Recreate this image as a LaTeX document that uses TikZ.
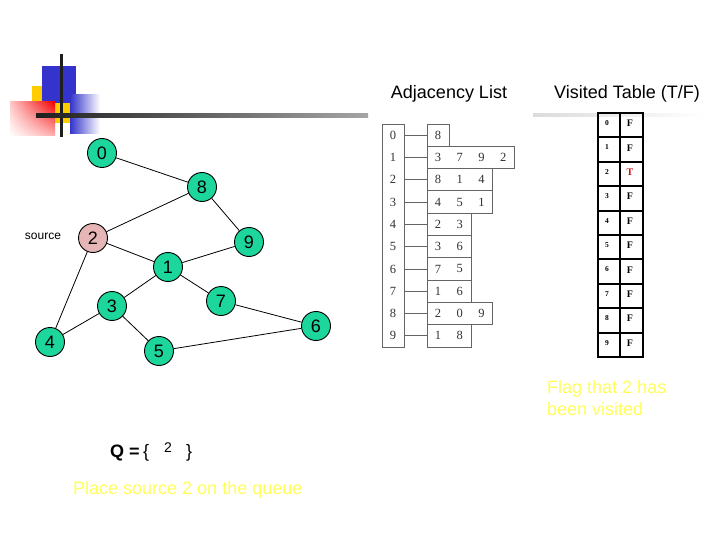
\documentclass[tikz,border=0pt]{standalone}
\usepackage{fontspec}
\usetikzlibrary{shadings}
\setmainfont{Liberation Sans}
\newfontfamily\serifA{Liberation Serif}
\definecolor{nodegreen}{RGB}{28,214,156}
\definecolor{nodepink}{RGB}{230,182,182}
\definecolor{logoblue}{RGB}{52,52,204}
\definecolor{logoyellow}{RGB}{255,204,0}
\definecolor{hiyellow}{RGB}{255,255,90}
\definecolor{adjgray}{RGB}{100,100,100}
\definecolor{adjtext}{RGB}{50,50,50}
\definecolor{tred}{RGB}{190,20,30}
\begin{document}
\begin{tikzpicture}[x=1pt,y=-1pt,
  gnode/.style={circle, draw=black, line width=0.9pt, fill=nodegreen, minimum size=29pt, inner sep=0pt, font=\fontsize{18}{18}\selectfont},
  edge/.style={draw=black, line width=0.8pt},
  adjbox/.style={draw=adjgray, line width=0.8pt, inner sep=0pt, minimum height=22.3pt},
  adjtxt/.style={inner sep=0pt, text=adjtext, font=\serifA\fontsize{12.5}{12.5}\selectfont},
  adjlink/.style={draw=adjgray, line width=0.8pt},
  vnum/.style={inner sep=0pt, font=\serifA\bfseries\fontsize{7.5}{7.5}\selectfont},
  vflag/.style={inner sep=0pt, font=\serifA\bfseries\fontsize{10}{10}\selectfont},
  title/.style={inner sep=0pt, anchor=base, font=\fontsize{18}{18}\selectfont},
  note/.style={inner sep=0pt, anchor=base west, text=hiyellow, font=\fontsize{18}{18}\selectfont}]
\useasboundingbox (0,0) rectangle (720,540);
\fill[white] (0,0) rectangle (720,540);

% logo
\fill[logoyellow] (32,86) rectangle (70,123);
\fill[logoblue] (42,66) rectangle (76,103);
\shade[upper right=red!95!black, upper left=red!22, lower right=red!30, lower left=white] (10,102) rectangle (55,136);
\shade[left color=logoblue, right color=white] (70,95) rectangle (100,134);
\fill[black!88] (59.5,54) rectangle (62.5,137);
\shade[left color=black!88, right color=black!35] (36,114) rectangle (368,117.5);
\shade[left color=black!14, right color=white] (533,113.5) rectangle (705,116.5);

% titles
\node[title] (adjtitle) at (449,99) {Adjacency List};
\node[title] (vistitle) at (627,99) {Visited Table (T/F)};

% graph
\node[gnode] (n0) at (102,153) {0};
\node[gnode] (n8) at (202,187) {8};
\node[gnode, fill=nodepink] (n2) at (93,238) {2};
\node[gnode] (n9) at (249,242) {9};
\node[gnode] (n1) at (168,267) {1};
\node[gnode] (n7) at (221,301) {7};
\node[gnode] (n3) at (112,306) {3};
\node[gnode] (n6) at (316,326) {6};
\node[gnode] (n4) at (50,342) {4};
\node[gnode] (n5) at (159,351) {5};
\node[inner sep=0pt, font=\fontsize{12}{12}\selectfont] (src) at (43,236) {source};
\foreach \a/\b in {n0/n8, n8/n2, n8/n9, n2/n1, n2/n4, n9/n1, n1/n3, n1/n7, n3/n4, n3/n5, n7/n6, n5/n6}
  \draw[edge] (\a) -- (\b);

% adjacency list
\node[draw=adjgray, line width=0.8pt, inner sep=0pt, minimum width=22pt, minimum height=223pt] (leftcol) at (393,235.5) {};
\foreach \i/\n in {0/1,1/4,2/3,3/3,4/2,5/2,6/2,7/2,8/3,9/2} {
  \node[adjtxt] (L\i) at (393,{135.15+22.3*\i}) {\i};
  \node[adjbox, anchor=west, minimum width={21.8*\n}] (R\i) at (427,{135.15+22.3*\i}) {};
  \draw[adjlink] (leftcol.east |- L\i) -- (R\i.west);
}
\foreach \i/\j/\v in {0/0/8, 1/0/3,1/1/7,1/2/9,1/3/2, 2/0/8,2/1/1,2/2/4, 3/0/4,3/1/5,3/2/1,
  4/0/2,4/1/3, 5/0/3,5/1/6, 6/0/7,6/1/5, 7/0/1,7/1/6, 8/0/2,8/1/0,8/2/9, 9/0/1,9/1/8}
  \node[adjtxt] (a\i\j) at ({437.9+21.8*\j},{135.15+22.3*\i}) {\v};

% visited table
\draw[line width=2.6pt] (598,113) rectangle (643,357);
\foreach \i in {1,...,9} \draw[line width=2pt] (598,{113+24.4*\i}) -- (643,{113+24.4*\i});
\draw[line width=2pt] (620,113) -- (620,357);
\foreach \i in {0,...,9} {
  \node[vnum] (vn\i) at (607,{123+24.4*\i}) {\i};
  \ifnum\i=2
    \node[vflag, text=tred] (vf\i) at (630,{123.5+24.4*\i}) {T};
  \else
    \node[vflag] (vf\i) at (630,{123.5+24.4*\i}) {F};
  \fi
}

% notes
\node[note] (flag1) at (547,393) {Flag that 2 has};
\node[note] (flag2) at (547,415) {been visited};
\node[note] (place) at (73,494) {Place source 2 on the queue};
\node[inner sep=0pt, anchor=base west, font=\bfseries\fontsize{18}{18}\selectfont] (qlab) at (110,457) {Q =};
\node[inner sep=0pt, anchor=base west, font=\fontsize{18}{18}\selectfont] (qopen) at (143,457) {\{};
\node[inner sep=0pt, font=\fontsize{14}{14}\selectfont] (qtwo) at (168,448) {2};
\node[inner sep=0pt, anchor=base west, font=\fontsize{18}{18}\selectfont] (qclose) at (186,457) {\}};
\end{tikzpicture}
\end{document}
